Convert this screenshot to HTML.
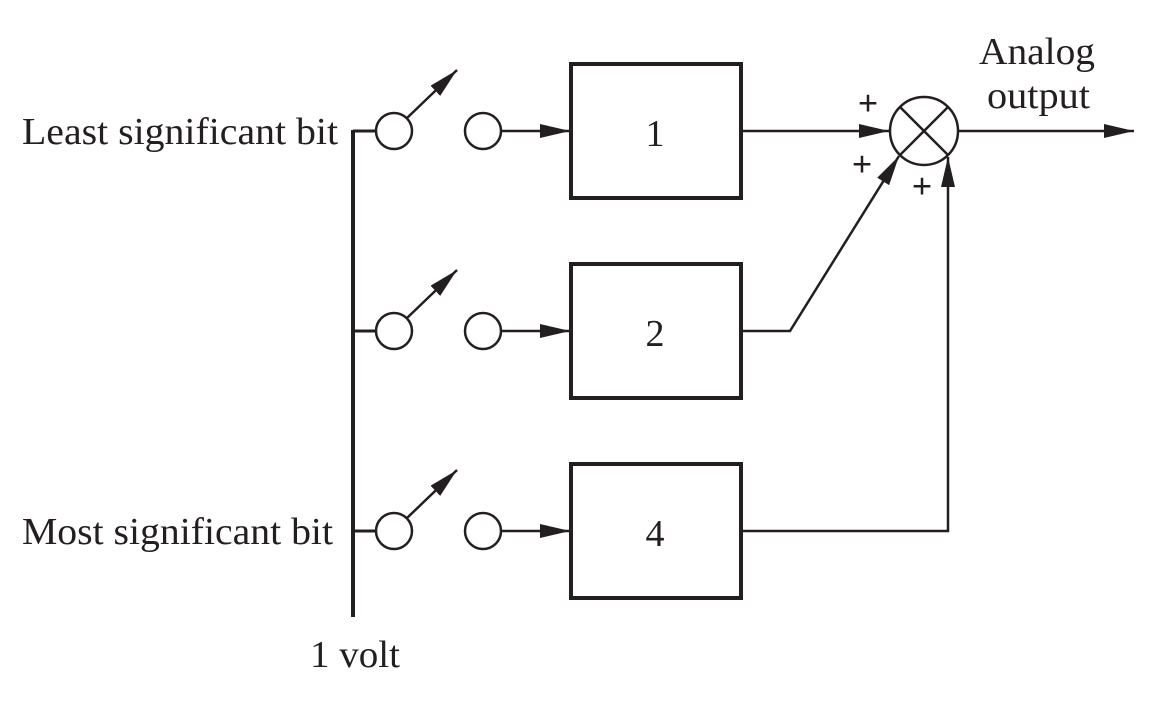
<!DOCTYPE html>
<html><head><meta charset="utf-8"><style>
html,body{margin:0;padding:0;background:#fff;}
svg{display:block;}
text{font-family:"Liberation Serif",serif;fill:#231f20;}
</style></head><body>
<svg width="1150" height="701" viewBox="0 0 1150 701">
<defs>
<marker id="ah" viewBox="0 0 10 10" refX="10" refY="5" markerWidth="30" markerHeight="14" markerUnits="userSpaceOnUse" orient="auto" preserveAspectRatio="none"><path d="M0,0L10,5L0,10z" fill="#231f20"/></marker>
</defs>
<g stroke="#231f20" fill="none">
<line x1="353" y1="130" x2="353" y2="617" stroke-width="4"/>
<g>
<line x1="353" y1="131" x2="376" y2="131" stroke-width="3"/>
<circle cx="394" cy="131" r="18" stroke-width="2.5" fill="#fff"/>
<line x1="407" y1="118" x2="457" y2="70" stroke-width="2.5" marker-end="url(#ah)"/>
<circle cx="483" cy="131" r="18" stroke-width="2.5" fill="#fff"/>
<line x1="501" y1="131" x2="570" y2="131" stroke-width="2.5" marker-end="url(#ah)"/>
</g>
<g>
<line x1="353" y1="331" x2="376" y2="331" stroke-width="3"/>
<circle cx="394" cy="331" r="18" stroke-width="2.5" fill="#fff"/>
<line x1="407" y1="318" x2="457" y2="270" stroke-width="2.5" marker-end="url(#ah)"/>
<circle cx="483" cy="331" r="18" stroke-width="2.5" fill="#fff"/>
<line x1="501" y1="331" x2="570" y2="331" stroke-width="2.5" marker-end="url(#ah)"/>
</g>
<g>
<line x1="353" y1="531" x2="376" y2="531" stroke-width="3"/>
<circle cx="394" cy="531" r="18" stroke-width="2.5" fill="#fff"/>
<line x1="407" y1="518" x2="457" y2="470" stroke-width="2.5" marker-end="url(#ah)"/>
<circle cx="483" cy="531" r="18" stroke-width="2.5" fill="#fff"/>
<line x1="501" y1="531" x2="570" y2="531" stroke-width="2.5" marker-end="url(#ah)"/>
</g>
<rect x="571" y="64" width="170" height="134" stroke-width="4"/>
<rect x="571" y="264" width="170" height="134" stroke-width="4"/>
<rect x="571" y="464" width="170" height="134" stroke-width="4"/>
<line x1="743" y1="131" x2="889" y2="131" stroke-width="2.5" marker-end="url(#ah)"/>
<polyline points="743,331 790,331 899,156" stroke-width="2.5" marker-end="url(#ah)"/>
<polyline points="743,531 948,531 948,157" stroke-width="2.5" marker-end="url(#ah)"/>
<g>
<circle cx="924" cy="131" r="34" stroke-width="2.5"/>
<line x1="900" y1="107" x2="948" y2="155" stroke-width="2.5"/>
<line x1="948" y1="107" x2="900" y2="155" stroke-width="2.5"/>
</g>
<line x1="958" y1="131" x2="1134" y2="131" stroke-width="2.5" marker-end="url(#ah)"/>
</g>
<text x="655" y="146" font-size="38" text-anchor="middle">1</text>
<text x="655" y="346" font-size="38" text-anchor="middle">2</text>
<text x="655" y="546" font-size="38" text-anchor="middle">4</text>
<text x="22" y="144" font-size="38" textLength="316" lengthAdjust="spacingAndGlyphs">Least significant bit</text>
<text x="22" y="544" font-size="38" textLength="311" lengthAdjust="spacingAndGlyphs">Most significant bit</text>
<text x="310" y="667" font-size="38" textLength="90" lengthAdjust="spacingAndGlyphs">1 volt</text>
<text x="979" y="64" font-size="38" textLength="116" lengthAdjust="spacingAndGlyphs">Analog</text>
<text x="987" y="108" font-size="38" textLength="103" lengthAdjust="spacingAndGlyphs">output</text>
<text x="868" y="115" font-size="36" font-weight="bold" text-anchor="middle">+</text>
<text x="862" y="176" font-size="36" font-weight="bold" text-anchor="middle">+</text>
<text x="922" y="198" font-size="36" font-weight="bold" text-anchor="middle">+</text>
</svg>
</body></html>
